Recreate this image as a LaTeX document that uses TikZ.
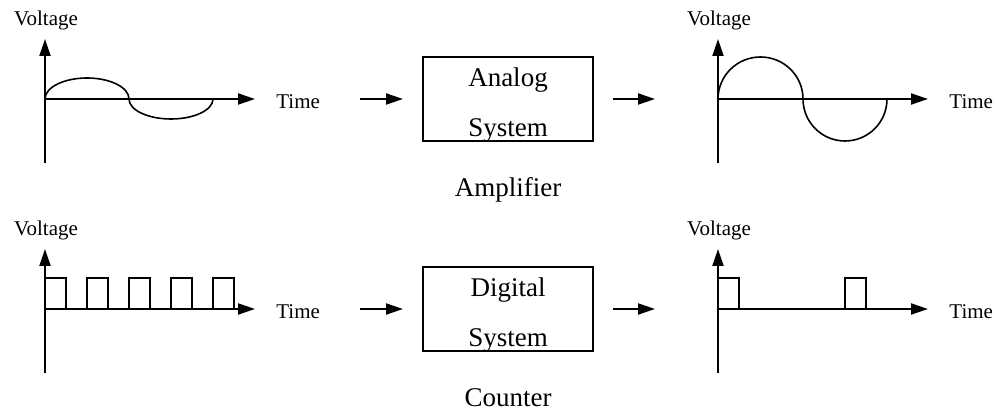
\documentclass[tikz,border=0pt]{standalone}
\usepackage{fontspec}
\setmainfont{Liberation Serif}
\usetikzlibrary{arrows.meta}

\def\pulsehi{31}

\begin{document}
\begin{tikzpicture}[x=0.5pt,y=0.5pt,
    axis/.style={line width=1pt,-{Triangle[length=8.5pt,width=5.5pt]}},
    flow/.style={line width=1pt,-{Triangle[length=8.5pt,width=5.5pt]}},
    wave/.style={line width=0.8pt},
    sysbox/.style={draw,line width=0.8pt,minimum width=85pt,minimum height=42pt,inner sep=0pt},
    axlbl/.style={font=\fontsize{10.5}{12}\selectfont,inner sep=0pt,anchor=base},
    boxlbl/.style={font=\fontsize{13.5}{16}\selectfont,inner sep=0pt,anchor=base}
    ]
    \useasboundingbox (0,0) rectangle (996,412);

    \foreach \n/\ox/\oy in {ai/45/313,ao/718/313,di/45/103,do/718/103} {
      \draw[axis] (\ox,\oy-64) -- (\ox,\oy+60);
      \draw[axis] (\ox,\oy) -- (\ox+210,\oy);
      \node[axlbl] (volt\n) at (\ox+1,\oy+73) {Voltage};
      \node[axlbl,anchor=base west] (time\n) at (\ox+231,\oy-10) {Time};
    }

    % analog row
    \draw[wave] (45,313) arc[start angle=180,end angle=0,x radius=42,y radius=21]
      arc[start angle=180,end angle=360,x radius=42,y radius=20];
    \draw[wave] (718,313) arc[start angle=180,end angle=0,x radius=42.5,y radius=42]
      arc[start angle=180,end angle=360,x radius=42,y radius=42];

    \node[sysbox] (asys) at (508,313) {};
    \node[boxlbl] (asysA) at (508,325) {Analog};
    \node[boxlbl] (asysB) at (508,275) {System};
    \node[boxlbl] (amp) at (508,215) {Amplifier};

    \coordinate (ainS) at (360,313);
    \coordinate (ainE) at (403,313);
    \coordinate (aoutS) at (613,313);
    \coordinate (aoutE) at (655,313);
    \draw[flow] (ainS) -- (ainE);
    \draw[flow] (aoutS) -- (aoutE);

    % digital row
    \foreach \px in {45,87,129,171,213}
      \draw[wave] (\px,103) |- ({\px+21},103+\pulsehi) -- ({\px+21},103);
    \foreach \px in {718,845}
      \draw[wave] (\px,103) |- ({\px+21},103+\pulsehi) -- ({\px+21},103);

    \node[sysbox] (dsys) at (508,103) {};
    \node[boxlbl] (dsysA) at (508,115) {Digital};
    \node[boxlbl] (dsysB) at (508,65) {System};
    \node[boxlbl] (cnt) at (508,5) {Counter};

    \coordinate (dinS) at (360,103);
    \coordinate (dinE) at (403,103);
    \coordinate (doutS) at (613,103);
    \coordinate (doutE) at (655,103);
    \draw[flow] (dinS) -- (dinE);
    \draw[flow] (doutS) -- (doutE);
  \end{tikzpicture}
\end{document}
